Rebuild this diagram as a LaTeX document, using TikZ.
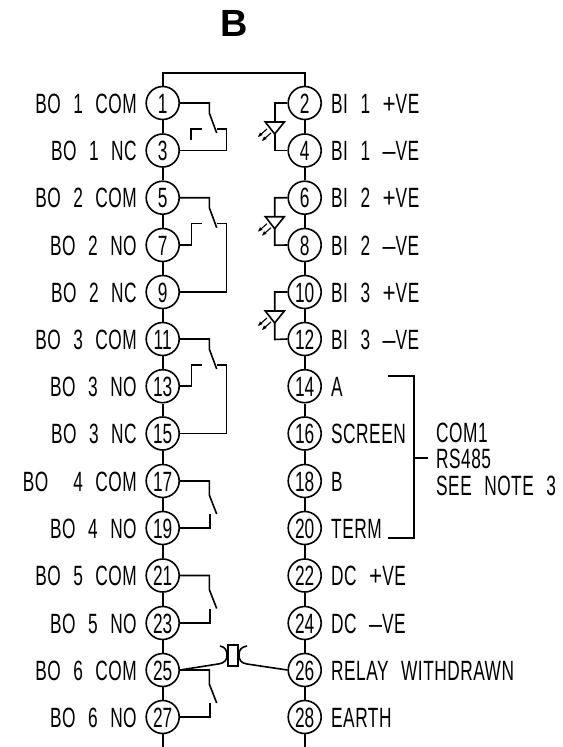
\documentclass[tikz,border=0pt]{standalone}
\usepackage{fontspec}
\setmainfont{Liberation Sans}[FakeStretch=0.62,WordSpace=2.35,LetterSpace=1.8]
\newfontfamily\titlefont{Liberation Sans}[Scale=1]
\newfontfamily\numfont{Liberation Sans}[FakeStretch=0.62]
\newcommand{\mn}{\scalebox{1.35}[1]{–}}
\newcommand{\pl}{\scalebox{1.3}[1]{+}}
\begin{document}
\begin{tikzpicture}[x=1bp,y=-1bp,
  wire/.style={line width=1.6bp,black},
  term/.style={circle,draw,line width=1.6bp,minimum size=33bp,inner sep=0pt,font=\numfont\fontsize{28}{28}\selectfont,text height=20bp,text depth=0pt},
  lab/.style={font=\fontsize{28}{28}\selectfont,inner sep=0pt,text height=20bp,text depth=0pt},
  labl/.style={lab,anchor=east},
  labr/.style={lab,anchor=west}]
\useasboundingbox (0,0) rectangle (563,747);
\node[font=\bfseries\fontsize{38}{38}\selectfont,inner sep=0pt,text height=27bp,text depth=0pt] (title) at (234.5,23.5) {\titlefont B};
% terminals
\foreach \n/\y in {1/103,3/150.5,5/197.7,7/245,9/292,11/339,13/386.2,15/433.5,17/481,19/528,21/575.5,23/623,25/670,27/717}
  \node[term] (t\n) at (162.7,\y) {\n};
\foreach \n/\y in {2/103,4/150.5,6/197.7,8/245,10/292,12/339,14/386.2,16/433.5,18/481,20/528,22/575.5,24/623,26/670,28/717}
  \node[term] (t\n) at (304.7,\y) {\n};
% buses
\foreach \a/\b in {1/3,3/5,5/7,7/9,9/11,11/13,13/15,15/17,17/19,19/21,21/23,23/25,25/27,2/4,4/6,6/8,8/10,10/12,12/14,14/16,16/18,18/20,20/22,22/24,24/26,26/28}
  \draw[wire] (t\a) -- (t\b);
\coordinate (topl) at (162.7,72.7);
\coordinate (topr) at (304.7,72.7);
\draw[wire] (t1) -- (topl) -- (topr) -- (t2);
\coordinate (botl) at (162.7,747);
\coordinate (botr) at (304.7,747);
\draw[wire] (t27) -- (botl);
\draw[wire] (t28) -- (botr);
% changeover contacts
\newcommand{\chg}[3]{%
  \draw[wire] (#1.east) -- (209.3,#3) -- (209.3,#3+10) -- (216.7,#3+30);
  \draw[wire] (#2.east) -| (226.3,#3+25.7) -- (217,#3+25.7);
}
\chg{t1}{t3}{103}
\draw[wire] (190.7,140) -- (190.7,128.7) -- (202,128.7);
\chg{t5}{t9}{197.7}
\draw[wire] (t7.east) -| (191.3,223.4) -- (202,223.4);
\chg{t11}{t15}{339}
\draw[wire] (t13.east) -| (191.3,364.7) -- (202,364.7);
% make contacts
\newcommand{\mk}[3]{%
  \draw[wire] (#1.east) -- (209.3,#3) -- (209.3,#3+14) -- (216.7,#3+33);
  \draw[wire] (#2.east) -| (209.8,#3+33);
}
\mk{t17}{t19}{481}
\mk{t21}{t23}{575.5}
\mk{t25}{t27}{670}
% opto inputs
\newcommand{\opto}[3]{%
  \draw[wire] (#1.west) -| (274.7,#3+47.5) -- (#2.west);
  \draw[wire,fill=white] (265.3,#3+19) -- (284.3,#3+19) -- (274.7,#3+31) -- cycle;
  \draw[line width=1.1bp] (267,#3+26) -- (259,#3+33) (271,#3+30) -- (263,#3+37);
  \fill (258,#3+34) -- (260,#3+29.5) -- (262.5,#3+32) -- cycle;
  \fill (262,#3+38) -- (264,#3+33.5) -- (266.5,#3+36) -- cycle;
}
\opto{t2}{t4}{103}
\opto{t6}{t8}{197.7}
\opto{t10}{t12}{292}
% relay
\node[draw,line width=1.6bp,minimum width=10bp,minimum height=21bp,inner sep=0pt] (rel) at (233,655.5) {};
\draw[wire] (t25.east) -- (218,664) .. controls (225,663) and (227,660) .. (227,655) .. controls (227,650) and (225,647) .. (220,646);
\draw[wire] (t26.west) -- (247,664) .. controls (241,663) and (239,660) .. (239,655) .. controls (239,650) and (241,647) .. (247,646);
% labels
\foreach \n/\t in {1/BO 1 COM,3/BO 1 NC,5/BO 2 COM,7/BO 2 NO,9/BO 2 NC,11/BO 3 COM,13/BO 3 NO,15/BO 3 NC,17/BO\ \ 4 COM,19/BO 4 NO,21/BO 5 COM,23/BO 5 NO,25/BO 6 COM,27/BO 6 NO}
  \node[labl] (l\n) at ([xshift=-8.5bp]t\n.west) {\t};
\foreach \n/\t in {2/BI 1 \pl VE,4/BI 1 \mn VE,6/BI 2 \pl VE,8/BI 2 \mn VE,10/BI 3 \pl VE,12/BI 3 \mn VE,14/A,16/SCREEN,18/B,20/TERM,22/DC \pl VE,24/DC \mn VE,26/RELAY WITHDRAWN,28/EARTH}
  \node[labr] (l\n) at ([xshift=9bp]t\n.east) {\t};
% bracket
\coordinate (bt) at (388,375.7);
\coordinate (bb) at (388,538);
\coordinate (bm) at (414,457.7);
\coordinate (bn) at (428,457.7);
\draw[wire] (bt) -| (bb -| bm) -- (bb);
\draw[wire] (bm) -- (bn);
\foreach \nm/\y/\t in {c1/432/COM1,c2/458.5/RS485,c3/485/SEE NOTE 3}
  \node[labr] (\nm) at (436,\y) {\t};
\end{tikzpicture}
\end{document}
